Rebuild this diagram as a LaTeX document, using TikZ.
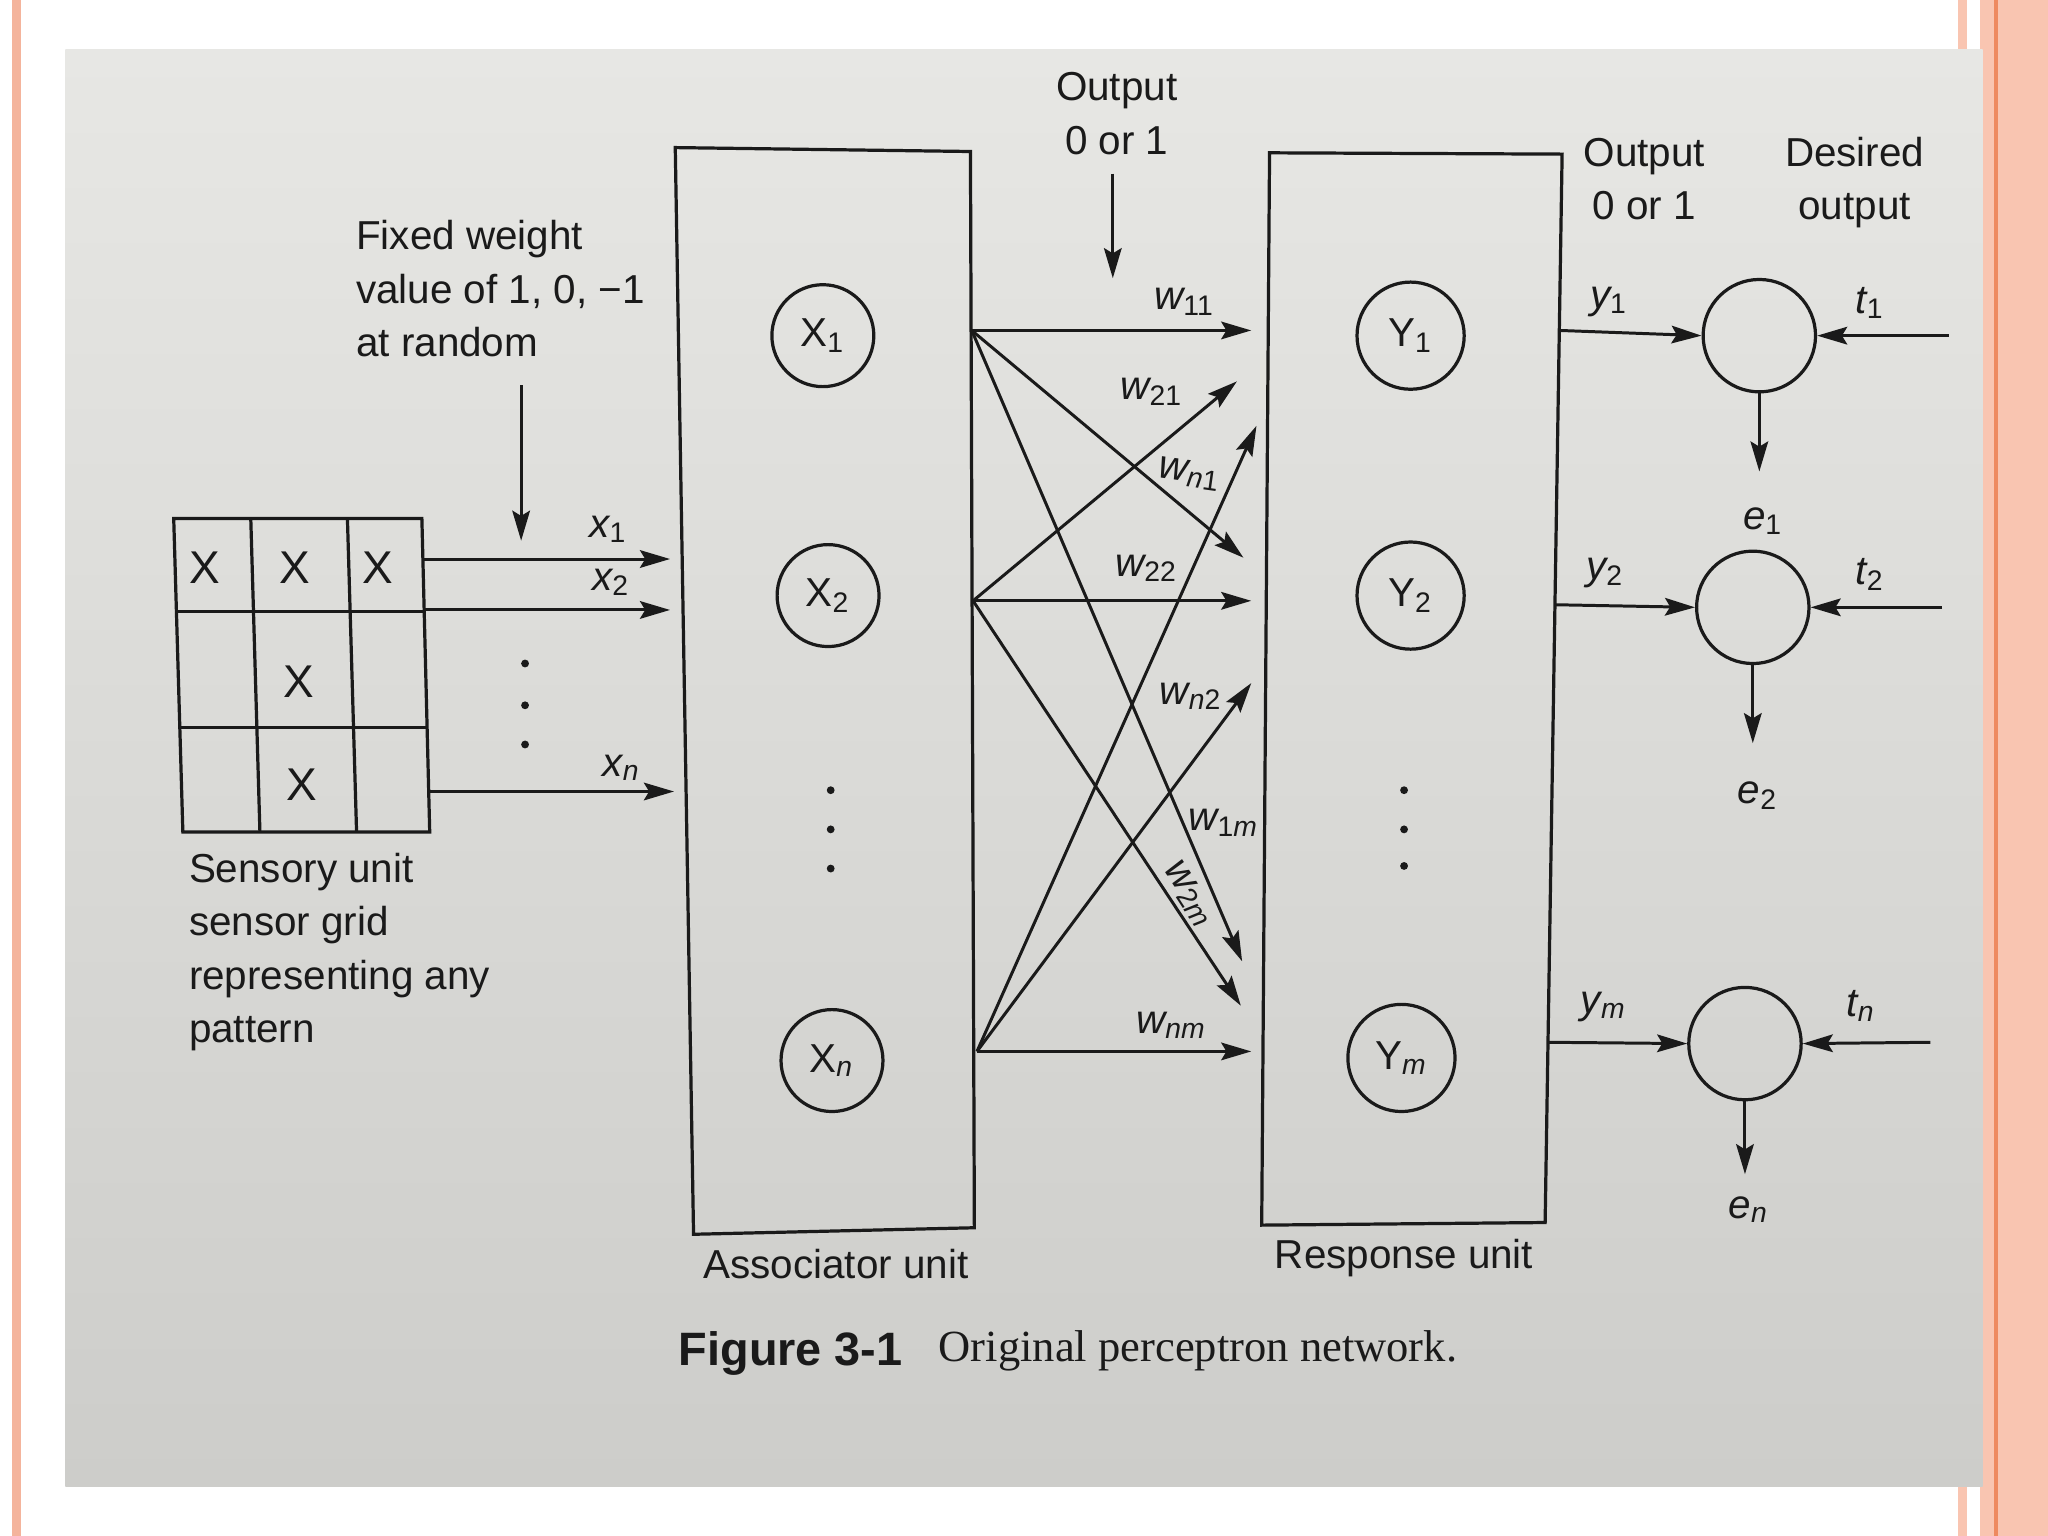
\documentclass[tikz,border=0pt]{standalone}
\usepackage{fontspec}
\setmainfont{Liberation Sans}
\newfontfamily\capserif{Liberation Serif}
\usetikzlibrary{arrows.meta}
\definecolor{salmon}{HTML}{F9C5B1}
\definecolor{salmonline}{HTML}{F4B49C}
\definecolor{orangeline}{HTML}{EE8A60}
\definecolor{papertop}{HTML}{E7E7E4}
\definecolor{papermid}{HTML}{E2E2DF}
\definecolor{paperbot}{HTML}{CDCDCA}
\definecolor{ink}{HTML}{1A1A1A}
\newcommand\sbs[1]{\textsubscript{#1}}
\newcommand\itn{\itshape n}
\newcommand\itm{\itshape m}
\begin{document}
\begin{tikzpicture}[x=0.01cm,y=-0.01cm,
  every node/.style={text=ink, font=\fontsize{8.8}{11.6}\selectfont},
  bx/.style={draw=ink, line width=0.7pt},
  ln/.style={draw=ink, line width=0.65pt},
  arr/.style={ln, -{Stealth[length=2.3mm,width=1.35mm,inset=0.4mm]}},
  unitc/.style={draw=ink, circle, line width=0.7pt, minimum size=0.78cm, inner sep=0pt},
  respc/.style={draw=ink, circle, line width=0.7pt, minimum size=0.82cm, inner sep=0pt},
  errc/.style={draw=ink, circle, line width=0.7pt, minimum size=0.86cm, inner sep=0pt},
  lbl/.style={inner sep=0pt},
  dotc/.style={fill=ink, circle, inner sep=0pt, minimum size=0.06cm},
  cellx/.style={inner sep=0pt, font=\fontsize{10}{12}\selectfont}
]
\useasboundingbox (0,0) rectangle (1568,1176);
% slide background and borders
\fill[white] (0,0) rectangle (1568,1176);
\fill[salmonline] (9,0) rectangle (16,1176);
\fill[salmon] (1499,0) rectangle (1506,1176);
\fill[salmon] (1516,0) rectangle (1568,1176);
\fill[orangeline] (1527,0) rectangle (1530,1176);
% photographed page
\shade[top color=papertop, middle color=papermid, bottom color=paperbot] (50,38) rectangle (1518,1138);

% ---------- sensory grid ----------
\draw[bx] (133,397) -- (323,397) -- (329,637) -- (140,637) -- cycle;
\draw[bx] (192,397) -- (199,637);
\draw[bx] (266,397) -- (273,637);
\draw[bx] (135,468) -- (325,468);
\draw[bx] (138,557) -- (327,557);
\node[cellx] (gx11) at (157,435) {X};
\node[cellx] (gx12) at (226,435) {X};
\node[cellx] (gx13) at (289,435) {X};
\node[cellx] (gx22) at (229,522) {X};
\node[cellx] (gx32) at (231,601) {X};
\node[lbl, anchor=west, align=left] (sens) at (144,729)
  {Sensory unit\\sensor grid\\representing any\\pattern};

% fixed weight note
\node[lbl, anchor=west, align=left] (fixw) at (272,221)
  {Fixed weight\\value of 1, 0, −1\\at random};
\coordinate (fa) at (399,295);
\coordinate (fb) at (399,414);
\draw[arr] (fa) -- (fb);

% inputs
\coordinate (g1) at (324,428);
\coordinate (g2) at (325,467);
\coordinate (gn) at (328,606);
\coordinate (p1) at (513,428);
\coordinate (p2) at (513,467);
\coordinate (pn) at (516,606);
\draw[arr] (g1) -- (p1);
\draw[arr] (g2) -- (p2);
\draw[arr] (gn) -- (pn);
\node[lbl] (lx1) at (466,405) {{\itshape x}\sbs{1}};
\node[lbl] (lx2) at (468,446) {{\itshape x}\sbs{2}};
\node[lbl] (lxn) at (476,588) {{\itshape x}\sbs{\itn}};
\node[dotc] (d1) at (402,508) {};
\node[dotc] (d2) at (402,540) {};
\node[dotc] (d3) at (402,570) {};

% ---------- associator unit ----------
\draw[bx] (517,113) -- (743,116) -- (746,940) -- (531,945) -- cycle;
\node[unitc] (X1) at (630,257) {X\sbs{1}};
\node[unitc] (X2) at (634,456) {X\sbs{2}};
\node[unitc] (Xn) at (637,812) {X\sbs{\itn}};
\node[dotc] (ad1) at (636,605) {};
\node[dotc] (ad2) at (636,635) {};
\node[dotc] (ad3) at (636,665) {};
\node[lbl] (assoc) at (640,968) {Associator unit};

% output note
\node[lbl, align=center] (out1) at (855,87) {Output\\0 or 1};
\coordinate (oa) at (852,133);
\coordinate (ob) at (852,213);
\draw[arr] (oa) -- (ob);

% ---------- response unit ----------
\draw[bx] (972,117) -- (1196,118) -- (1183,936) -- (966,938) -- cycle;
\node[respc] (Y1) at (1080,257) {Y\sbs{1}};
\node[respc] (Y2) at (1080,456) {Y\sbs{2}};
\node[respc] (Ym) at (1073,810) {Y\sbs{\itm}};
\node[dotc] (rd1) at (1075,605) {};
\node[dotc] (rd2) at (1075,635) {};
\node[dotc] (rd3) at (1075,663) {};
\node[lbl] (resp) at (1075,963) {Response unit};

% ---------- weighted connections ----------
\coordinate (a1) at (744,253);
\coordinate (a2) at (745,460);
\coordinate (an) at (748,805);
\coordinate (e11) at (958,253);
\coordinate (e12) at (952,427);
\coordinate (e1m) at (951,736);
\coordinate (e21) at (947,292);
\coordinate (e22) at (958,460);
\coordinate (e2m) at (950,770);
\coordinate (en1) at (962,326);
\coordinate (en2) at (958,523);
\coordinate (enm) at (958,805);
\draw[arr] (a1) -- (e11);
\draw[arr] (a1) -- (e12);
\draw[arr] (a1) -- (e1m);
\draw[arr] (a2) -- (e21);
\draw[arr] (a2) -- (e22);
\draw[arr] (a2) -- (e2m);
\draw[arr] (an) -- (en1);
\draw[arr] (an) -- (en2);
\draw[arr] (an) -- (enm);
\node[lbl] (w11) at (907,231) {{\itshape w}\sbs{11}};
\node[lbl] (w21) at (882,300) {{\itshape w}\sbs{21}};
\node[lbl, rotate=-8] (wn1) at (911,363) {{\itshape w}\sbs{{\itn}\upshape 1}};
\node[lbl] (w22) at (878,435) {{\itshape w}\sbs{22}};
\node[lbl] (wn2) at (912,533) {{\itshape w}\sbs{{\itn}\upshape 2}};
\node[lbl] (w1m) at (937,630) {{\itshape w}\sbs{1{\itm}}};
\node[lbl, rotate=-57] (w2m) at (911,685) {{\itshape w}\sbs{2{\itm}}};
\node[lbl] (wnm) at (897,785) {{\itshape w}\sbs{{\itn}{\itm}}};

% ---------- outputs and errors ----------
\node[lbl, align=center] (out2) at (1259,137) {Output\\0 or 1};
\node[lbl, align=center] (des) at (1420,140) {Desired\\output};

\node[errc] (C1) at (1347,257) {};
\node[errc] (C2) at (1342,465) {};
\node[errc] (Cm) at (1336,799) {};

\coordinate (r1) at (1194,253);
\coordinate (r2) at (1190,463);
\coordinate (rm) at (1185,798);
\draw[arr] (r1) -- (C1.west);
\draw[arr] (r2) -- (C2.west);
\draw[arr] (rm) -- (Cm.west);

\coordinate (s1) at (1492,257);
\coordinate (s2) at (1487,465);
\coordinate (sm) at (1478,798);
\draw[arr] (s1) -- (C1.east);
\draw[arr] (s2) -- (C2.east);
\draw[arr] (sm) -- (Cm.east);

\coordinate (q1) at (1347,361);
\coordinate (q2) at (1342,569);
\coordinate (qm) at (1336,899);
\draw[arr] (C1.south) -- (q1);
\draw[arr] (C2.south) -- (q2);
\draw[arr] (Cm.south) -- (qm);

\node[lbl] (ly1) at (1232,231) {{\itshape y}\sbs{1}};
\node[lbl] (ly2) at (1229,439) {{\itshape y}\sbs{2}};
\node[lbl] (lym) at (1228,771) {{\itshape y}\sbs{\itm}};
\node[lbl] (lt1) at (1432,232) {{\itshape t}\sbs{1}};
\node[lbl] (lt2) at (1432,440) {{\itshape t}\sbs{2}};
\node[lbl] (ltn) at (1425,770) {{\itshape t}\sbs{\itn}};
\node[lbl] (le1) at (1350,399) {{\itshape e}\sbs{1}};
\node[lbl] (le2) at (1346,609) {{\itshape e}\sbs{2}};
\node[lbl] (len) at (1339,926) {{\itshape e}\sbs{\itn}};

% ---------- caption ----------
\node[lbl, anchor=west, font=\fontsize{10.2}{12}\selectfont\bfseries] (figno) at (519,1036) {Figure 3-1};
\node[lbl, anchor=west, font=\fontsize{9.7}{12}\selectfont\capserif] (figcap) at (718,1034) {Original perceptron network.};
\end{tikzpicture}
\end{document}
